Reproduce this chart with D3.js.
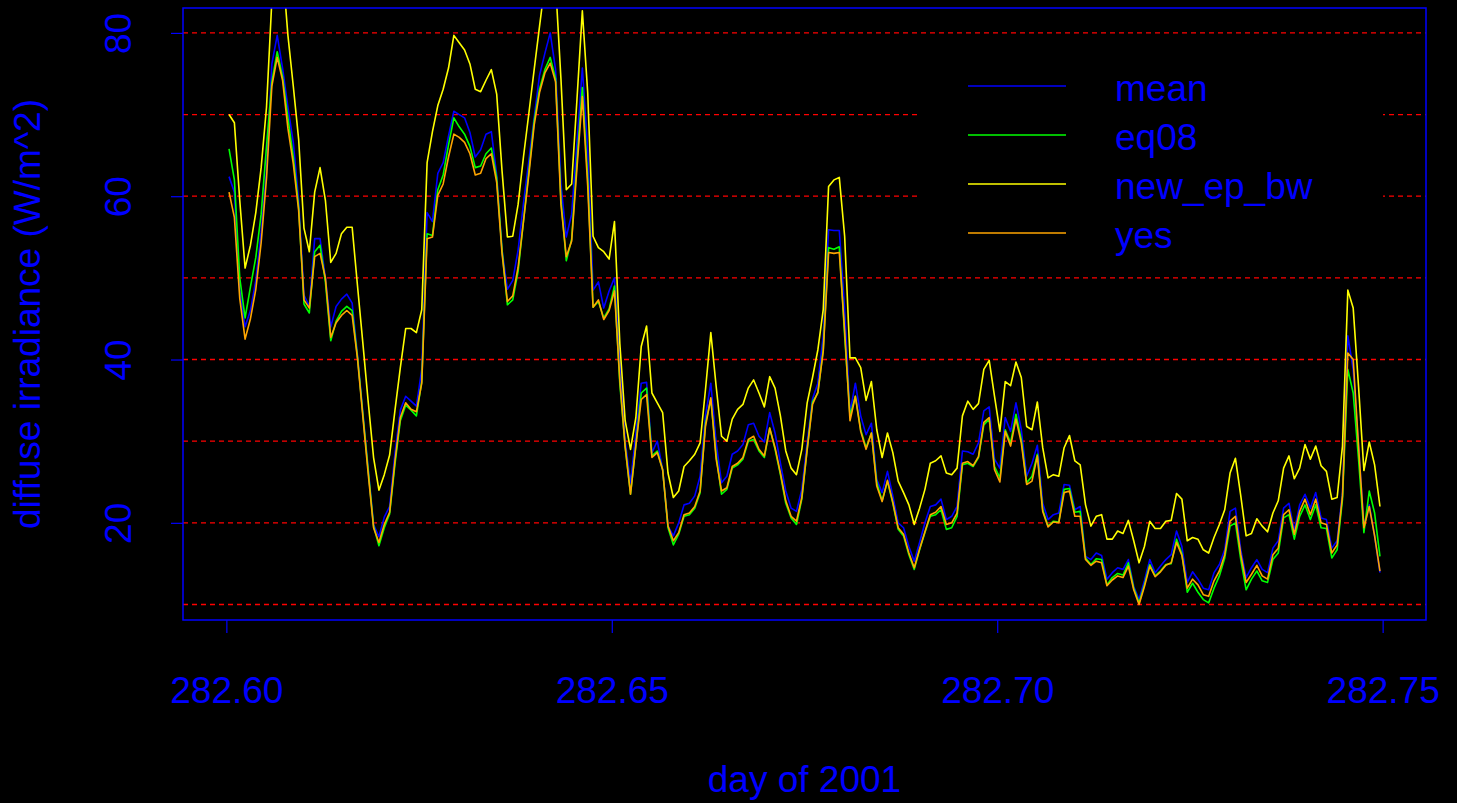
<!DOCTYPE html>
<html>
<head>
<meta charset="utf-8">
<script src="https://cdn.jsdelivr.net/npm/d3@7"></script>
<style>
  html, body { margin: 0; padding: 0; background: #000; }
  svg { display: block; }
  text { font-family: "Liberation Sans", Arial, sans-serif; }
</style>
</head>
<body>
<svg id="chart" width="1457" height="803"></svg>
<script>
// ---------------- data ----------------
const dayStart = 282.6;          // day of 2001
const minutesPerDay = 1440;
const nPoints = 216;             // one sample per minute, stamped mid-minute

const seriesNames = ["mean", "eq08", "new_ep_bw", "yes"];
const seriesColors = ["#0000ff", "#00ff00", "#ffff00", "#ffa500"];

const meanVals = [
62.4,60.5,48.5,44,46,49.7,55.6,63,76.2,79.7,75.7,70.9,66.6,59.5,47.9,46.5,54.8,54.8,50,44,
46.5,47.4,48,46.9,40.5,33.5,26.6,19.8,18.3,20.7,22,28.5,33.8,35.5,34.9,34.3,38.8,58,56.9,62.8,
64.1,67.4,70.4,70,69.6,67.8,64.8,65.7,67.6,67.9,62.6,53.4,48.6,49.7,53.4,59.1,64.3,69.6,74.8,77.5,
80,75.5,61.5,55,57.8,66.6,75.7,65.7,48.5,49.5,46.3,48.4,50,40,30,24.9,31,37.1,37.2,28.6,
30,26.5,19.6,18.4,20,22.2,22.4,23.3,25.7,33.1,37.1,29.8,24.9,25.7,28.4,28.8,29.6,32,32.2,30.6,
29.9,33.5,31,27.3,23.9,21.8,21.4,24.1,29.8,35.2,37.1,42.9,55.9,55.8,55.8,46.1,33.5,37.1,33.1,30.8,
32.2,25.3,23.7,26.3,23.3,20,19.4,17.1,15.3,17.6,20,22,22.2,22.9,20.4,20.8,22,28.8,28.7,28.4,
29.8,33.7,34.2,27.8,26.7,32.9,31.2,34.7,31.4,25.7,27.3,29.5,22.4,20.4,21,21.2,24.7,24.6,21.6,22,
15.9,15.5,16.3,16,13.1,13.9,14.5,14.3,15.5,12.2,10.6,12.9,15.5,13.9,14.7,15.5,16.1,19,17.1,12.7,
14,13.1,12,11.8,13.9,14.9,16.7,21.4,21.8,16.7,13.3,14.5,15.5,14.3,13.9,16.9,17.8,21.8,22.4,19,
22.2,23.5,21.8,23.7,20.6,20.4,16.9,17.8,23.7,42.9,38.8,29.4,19.6,22.2,18.4,13.9
];

const eq08Vals = [
65.8,62,50,45.1,48.9,52.5,57.8,66.1,74,77.7,74.6,69.6,64.8,58.7,46.8,45.7,53.2,54,49.5,42.3,
44.7,45.9,46.5,46,40.3,33.3,26.4,19.6,17.2,19.4,21.1,27.2,32.5,34.4,33.8,33.1,37.3,55.4,55.2,60.8,
62.6,66.3,69.6,68.5,67.6,66.1,63.5,63.7,65.2,65.9,62.2,53.4,46.7,47.3,50.8,56.9,63,69.2,73.1,75.5,
77,74.4,59.6,52.1,54.7,64.3,73.3,62.2,46.4,47.1,45.1,46.2,49,37,29.3,23.5,29.5,35.9,36.5,28.2,
28.8,26.5,19.4,17.3,18.6,20.8,21,21.8,23.7,32.2,35.1,28.2,23.5,24.1,26.7,27.1,27.8,30,30.2,28.8,
28,31.6,29,25.9,22.4,20.6,19.8,22.9,29,34.8,35.9,41.2,53.7,53.5,53.8,42.9,33.1,35.5,31.4,29.2,
31,24.9,22.7,25.1,22.4,19.2,18.4,16.1,14.3,16.7,18.8,20.8,21,21.6,19.2,19.4,20.8,27.1,27.3,26.9,
28,32,32.7,26.9,25.5,31.4,29.8,33.3,30.2,24.9,25.7,28.4,21.6,19.6,20.2,20.1,24.1,24.2,21.3,21.4,
15.7,14.9,15.6,15.5,12.4,13.3,13.8,13.6,15.1,12,10.2,12.4,14.9,13.5,14.1,14.9,15,18,16.2,11.5,
12.6,11.5,10.6,10.2,12,13.5,15.7,19.6,20,15.5,11.8,13.1,14.1,12.9,12.7,15.5,16.3,20.6,21,18,
20.8,22.2,20.4,22.2,19.4,19.3,15.7,16.7,22.9,38.8,35.9,27.8,18.8,23.9,21.2,15.9
];

const newEpBwVals = [
70,69,59.5,51.2,54,58,63.5,70.9,84,90,88,79.7,73.5,67,56.1,53.2,60.5,63.5,59.5,51.9,
53,55.4,56.2,56.2,49,42,34.8,28,24,25.9,28.3,33.8,39,43.8,43.8,43.3,46.1,64.1,67.9,71.1,
73.1,75.7,79.7,78.8,77.9,76.2,73.1,72.8,74.2,75.5,72.5,63.1,55,55.1,59,64.8,70.1,75.5,80.8,86,
88,86,74.4,60.8,61.5,71.9,82.7,72.7,55.1,53.7,53.2,52.3,56.9,42,32.5,29,32.9,41.6,44.1,35.9,
34.7,33.5,26.1,23.1,23.9,26.9,27.6,28.4,29.8,36.3,43.3,36.7,30.6,30,32.7,33.9,34.5,36.5,37.5,35.9,
34.2,37.9,36.5,33.1,28.8,26.7,25.9,29,34.7,37.8,41.2,46.1,61.2,62,62.3,55.1,40.2,40.2,39,35,
37.3,31.4,28,31,28.6,25.1,23.7,22.2,19.8,21.8,24.1,27.3,27.6,28.2,26.1,25.9,26.7,33.1,34.9,33.9,
34.6,38.8,39.9,35.5,31.2,37.3,36.8,39.7,37.8,31.8,31.4,34.8,29.2,25.5,25.9,25.7,29.2,30.7,27.6,27.1,
22.2,19.6,20.8,21,18,18,19,18.7,20.3,17.8,15.1,17.1,20.2,19.3,19.3,20.2,20.3,23.6,22.9,17.8,
18.2,18,16.7,16.3,18.2,19.8,21.6,26.1,27.9,23.3,18.4,18.7,20.5,19.6,18.9,21.2,22.7,26.7,28.2,25.4,
26.7,29.6,27.8,29.4,27,26.3,22.9,23.1,29.4,48.5,46.3,36.7,26.4,29.9,27.1,22
];

const yesVals = [
60.5,57.4,47.5,42.5,45,48.6,54.3,62.2,73.5,77,74.2,68.3,64,58.3,47.3,46.3,52.6,53,50,42.7,
44.5,45.4,46,45.4,40.1,33,26,19.4,17.6,19.8,21.3,27.6,32.9,34.7,33.9,33.6,37.1,54.8,55,60.1,
61.5,64.8,67.6,67.2,66.6,65.2,62.6,62.8,64.6,65.2,61.7,53,47.1,47.8,51.3,56.9,62.6,68.7,72.7,75.1,
76.3,74,59,52.6,54.5,63.5,72.2,61.3,46.4,47.3,44.9,46,48.4,37.5,29.3,23.5,29.5,35.1,35.7,28,
28.6,26.5,19.6,17.8,18.8,21,21.2,22,23.9,31.8,35.3,27.8,23.9,24.3,26.9,27.3,28,30.2,30.6,29,
28.2,31.6,29.2,26.1,22.7,20.8,20.2,23.1,29,34.5,36,41,53.1,53,53.1,43.5,32.5,35.5,31.2,29,
31,24.5,22.6,25.2,22.5,19.4,18.6,16.3,14.5,16.8,18.9,21,21.3,22,19.8,20,21.2,27.3,27.5,27,
28.1,32.3,32.9,26.5,25,31.2,29.4,32.7,29.8,24.7,25.1,28.2,21.4,19.5,20.1,20,23.7,23.9,20.8,20.8,
15.5,14.8,15.3,15.1,12.3,13,13.5,13.3,14.7,11.8,10,12.2,14.7,13.4,14,14.8,15.1,17.6,16,12,
13.1,12.4,11.2,11,12.9,14.1,16.1,20.2,20.8,16.1,12.7,13.7,14.8,13.5,13.1,16.1,16.9,21,21.6,18.6,
21.4,22.9,21,22.9,20,19.8,16.3,17.3,23.3,40.8,40,29.4,19.4,22,18.4,14.1
];

const xTicks = [282.60, 282.65, 282.70, 282.75];
const yTicks = [20, 40, 60, 80];
const gridValues = [10, 20, 30, 40, 50, 60, 70, 80];
const yLimits = [8.1, 83.05];
const xLabel = "day of 2001";
const yLabel = "diffuse irradiance (W/m^2)";

// time stamps (mid-minute)
const dayOfYear = d3.range(nPoints).map(i => dayStart + (i + 0.5) / minutesPerDay);
const seriesValues = [meanVals, eq08Vals, newEpBwVals, yesVals];

// ---------------- layout ----------------
const svg = d3.select("#chart");
const W = 1457, H = 803;
const plot = { left: 183, right: 1426, top: 8, bottom: 620 };
const blue = "#0000ff";
const fontSize = 37;

svg.append("rect").attr("width", W).attr("height", H).attr("fill", "#000");

const xExt = d3.extent(dayOfYear);
const xPad = (xExt[1] - xExt[0]) * 0.04;
const x = d3.scaleLinear().domain([xExt[0] - xPad, xExt[1] + xPad]).range([plot.left, plot.right]);
const y = d3.scaleLinear().domain(yLimits).range([plot.bottom, plot.top]);

// clip
svg.append("defs").append("clipPath").attr("id", "clip")
  .append("rect").attr("x", plot.left).attr("y", plot.top)
  .attr("width", plot.right - plot.left).attr("height", plot.bottom - plot.top);

// grid lines
svg.append("g").selectAll("line").data(gridValues).join("line")
  .attr("x1", plot.left).attr("x2", plot.right)
  .attr("y1", d => y(d)).attr("y2", d => y(d))
  .attr("stroke", "#ff0000").attr("stroke-width", 1.3)
  .attr("stroke-dasharray", "5,4");

// series lines
const lineGen = d3.line().x((d, i) => x(dayOfYear[i])).y(d => y(d));
const gLines = svg.append("g").attr("clip-path", "url(#clip)");
seriesValues.forEach((vals, k) => {
  gLines.append("path").datum(vals)
    .attr("d", lineGen)
    .attr("fill", "none")
    .attr("stroke", seriesColors[k])
    .attr("stroke-width", 1.6)
    .attr("stroke-linejoin", "round");
});

// box
svg.append("rect")
  .attr("x", plot.left).attr("y", plot.top)
  .attr("width", plot.right - plot.left).attr("height", plot.bottom - plot.top)
  .attr("fill", "none").attr("stroke", blue).attr("stroke-width", 1.5);

// x axis
const xAxis = d3.axisBottom(x).tickValues(xTicks).tickSize(13).tickSizeOuter(0)
  .tickPadding(30).tickFormat(d3.format(".2f"));
const gx = svg.append("g").attr("transform", `translate(0,${plot.bottom})`).call(xAxis);
gx.select(".domain").remove();
gx.selectAll(".tick line").attr("stroke", blue).attr("stroke-width", 1.2);
gx.selectAll(".tick text").attr("fill", blue).attr("font-size", fontSize)
  .attr("font-family", "Liberation Sans, Arial, sans-serif")
  .attr("dy", null).attr("y", 83);

// y axis
const yAxis = d3.axisLeft(y).tickValues(yTicks).tickSize(12).tickSizeOuter(0).tickFormat(d3.format("d"));
const gy = svg.append("g").attr("transform", `translate(${plot.left},0)`).call(yAxis);
gy.select(".domain").remove();
gy.selectAll(".tick line").attr("stroke", blue).attr("stroke-width", 1.2);
gy.selectAll(".tick text")
  .attr("fill", blue).attr("font-size", fontSize)
  .attr("font-family", "Liberation Sans, Arial, sans-serif")
  .attr("x", null).attr("dy", null)
  .attr("text-anchor", "middle")
  .attr("transform", "translate(-52,0) rotate(-90)");

// axis titles
svg.append("text").attr("x", (plot.left + plot.right) / 2).attr("y", 792)
  .attr("text-anchor", "middle").attr("fill", blue).attr("font-size", fontSize)
  .text(xLabel);
svg.append("text")
  .attr("transform", `translate(40,${(plot.top + plot.bottom) / 2}) rotate(-90)`)
  .attr("text-anchor", "middle").attr("fill", blue).attr("font-size", fontSize)
  .text(yLabel);

// legend
const legend = svg.append("g");
legend.append("rect").attr("x", 921).attr("y", 56).attr("width", 462).attr("height", 208).attr("fill", "#000");
const legY0 = 86, legStep = 49;
seriesNames.forEach((name, k) => {
  const ly = legY0 + k * legStep;
  legend.append("line").attr("x1", 968).attr("x2", 1066).attr("y1", ly).attr("y2", ly)
    .attr("stroke", seriesColors[k]).attr("stroke-width", 1.6);
  legend.append("text").attr("x", 1115).attr("y", ly + 14.5)
    .attr("fill", blue).attr("font-size", fontSize).text(name);
});
</script>
</body>
</html>
